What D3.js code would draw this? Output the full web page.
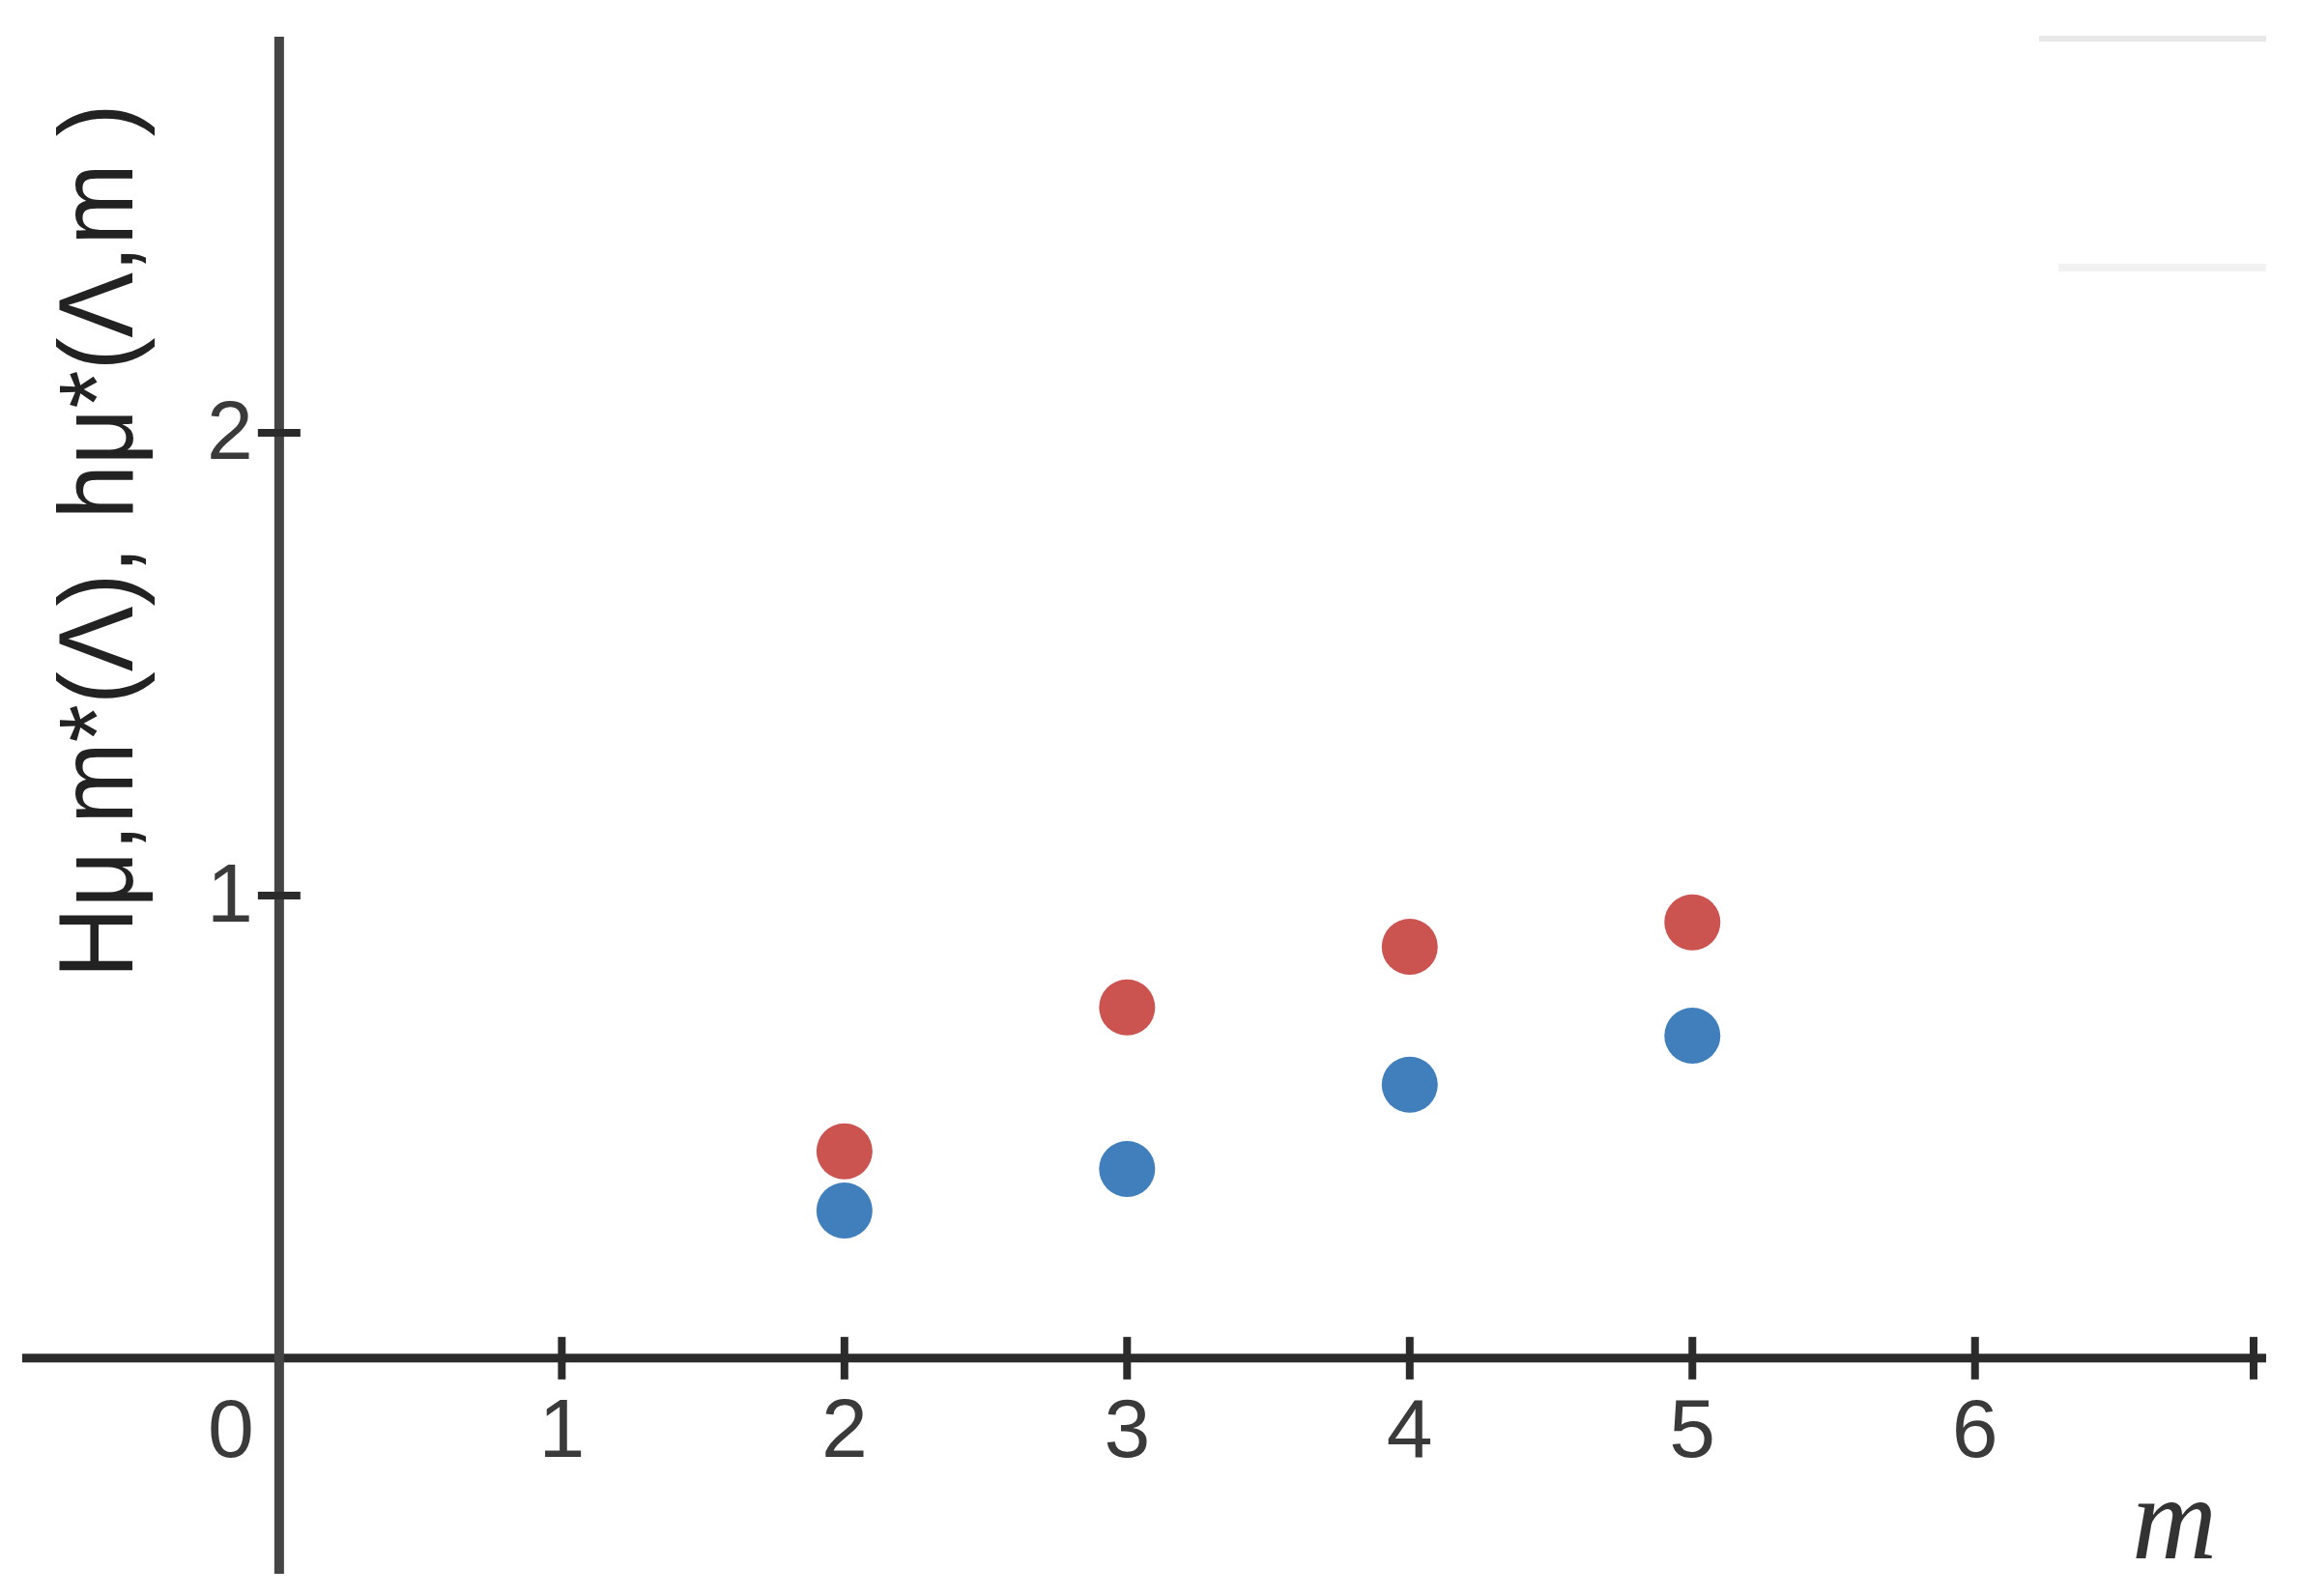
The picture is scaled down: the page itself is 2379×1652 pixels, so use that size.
<!DOCTYPE html>
<html>
<head>
<meta charset="utf-8">
<style>
  body { margin: 0; background: #fff; }
  svg { display: block; }
  .tickText { font-family: "Liberation Sans", Arial, sans-serif; fill: #3a3a3a; }
</style>
<script src="https://d3js.org/d3.v7.min.js"></script>
</head>
<body>
<svg width="2379" height="1652"></svg>
<script>
// data
var mValues = [2, 3, 4, 5];
var upperSeries = [0.447, 0.758, 0.889, 0.942];   // red
var lowerSeries = [0.319, 0.409, 0.591, 0.697];   // blue
var xTicks = [1, 2, 3, 4, 5, 6];
var yTicks = [1, 2];
var xLabel = "m";
var yLabel = "H\u03bc,m*(\u039b), h\u03bc*(\u039b,m )";

var width = 2379, height = 1652;
var svg = d3.select("svg");

var x = d3.scaleLinear().domain([-0.909, 7.03]).range([23, 2345]);
var y = d3.scaleLinear().domain([-0.466, 2.856]).range([1629, 38]);

var axisColor = "#2b2b2b";
var tickHalf = 22;

// faint box edges top right (left over from the original screenshot)
svg.append("line")
  .attr("x1", 2110).attr("x2", 2345)
  .attr("y1", 40).attr("y2", 40)
  .attr("stroke", "#e8e8e8").attr("stroke-width", 6);
svg.append("line")
  .attr("x1", 2130).attr("x2", 2345)
  .attr("y1", 277).attr("y2", 277)
  .attr("stroke", "#f2f2f2").attr("stroke-width", 8);

// axes lines
svg.append("line")
  .attr("x1", x.range()[0]).attr("x2", x.range()[1])
  .attr("y1", y(0)).attr("y2", y(0))
  .attr("stroke", axisColor).attr("stroke-width", 9);

svg.append("line")
  .attr("x1", x(0)).attr("x2", x(0))
  .attr("y1", y.range()[1]).attr("y2", y.range()[0])
  .attr("stroke", "#444").attr("stroke-width", 10);

// arrow end of the x axis
svg.append("line")
  .attr("x1", x.range()[1] - 13).attr("x2", x.range()[1] - 13)
  .attr("y1", y(0) - tickHalf).attr("y2", y(0) + tickHalf)
  .attr("stroke", axisColor).attr("stroke-width", 8);

// x ticks
svg.selectAll(".xtick")
  .data(xTicks)
  .enter().append("line")
  .attr("class", "xtick")
  .attr("x1", d => x(d)).attr("x2", d => x(d))
  .attr("y1", y(0) - tickHalf).attr("y2", y(0) + tickHalf)
  .attr("stroke", axisColor).attr("stroke-width", 8);

svg.selectAll(".xlab")
  .data(xTicks)
  .enter().append("text")
  .attr("class", "tickText xlab")
  .attr("x", d => x(d))
  .attr("y", y(0) + 102)
  .attr("text-anchor", "middle")
  .style("font-size", "86px")
  .text(d => d);

// zero label, left of the y axis
svg.append("text")
  .attr("class", "tickText")
  .attr("x", x(0) - 26)
  .attr("y", y(0) + 102)
  .attr("text-anchor", "end")
  .style("font-size", "86px")
  .text("0");

// y ticks
svg.selectAll(".ytick")
  .data(yTicks)
  .enter().append("line")
  .attr("class", "ytick")
  .attr("x1", x(0) - tickHalf).attr("x2", x(0) + tickHalf)
  .attr("y1", d => y(d)).attr("y2", d => y(d))
  .attr("stroke", axisColor).attr("stroke-width", 8);

svg.selectAll(".ylab")
  .data(yTicks)
  .enter().append("text")
  .attr("class", "tickText ylab")
  .attr("x", x(0) - 27)
  .attr("y", d => y(d) + 27)
  .attr("text-anchor", "end")
  .style("font-size", "86px")
  .text(d => d);

// axis titles
svg.append("text")
  .attr("x", 2206)
  .attr("y", 1613)
  .style("font-family", "'Liberation Serif', 'Times New Roman', serif")
  .style("font-style", "italic")
  .style("font-size", "122px")
  .attr("fill", "#333")
  .text(xLabel);

svg.append("text")
  .attr("transform", "translate(137," + 560 + ") rotate(-90)")
  .attr("text-anchor", "middle")
  .attr("textLength", 905)
  .attr("lengthAdjust", "spacingAndGlyphs")
  .style("font-family", "'Liberation Sans', Arial, sans-serif")
  .style("font-size", "110px")
  .attr("fill", "#222")
  .text(yLabel);

// points
svg.selectAll(".upper")
  .data(mValues)
  .enter().append("circle")
  .attr("class", "upper")
  .attr("cx", d => x(d))
  .attr("cy", (d, i) => y(upperSeries[i]))
  .attr("r", 29)
  .attr("fill", "#cb5350");

svg.selectAll(".lower")
  .data(mValues)
  .enter().append("circle")
  .attr("class", "lower")
  .attr("cx", d => x(d))
  .attr("cy", (d, i) => y(lowerSeries[i]))
  .attr("r", 29)
  .attr("fill", "#407fbc");
</script>
</body>
</html>
